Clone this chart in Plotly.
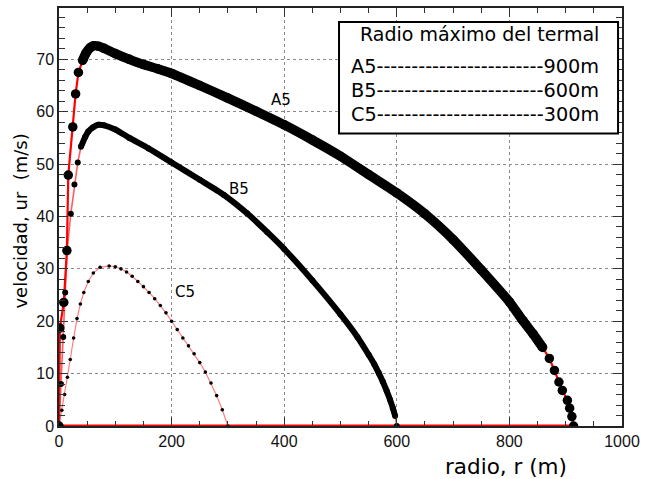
import plotly.graph_objects as go

# ---------------- data ----------------
A5_r = [0, 1.5, 8.5, 14, 16.5, 24.5, 29.5, 34.5, 42, 48, 55, 62, 70, 80, 100, 125, 150, 175, 200,
        250, 300, 350, 400, 450, 500, 550, 600, 650, 700, 750, 800, 824,
        842, 859, 871, 880, 888, 894, 903, 907, 911, 914]
A5_v = [0, 18.7, 23.6, 33.5, 47.9, 57.1, 63.4, 67.5, 69.8, 71.2, 72.2, 72.6, 72.5, 72.1, 71.1, 70.0, 69.0, 68.2, 67.3,
        65.0, 62.6, 60.1, 57.5, 54.6, 51.5, 48.0, 44.5, 40.5, 35.6, 29.8, 23.7, 20.1,
        17.6, 15.0, 12.9, 10.6, 8.4, 6.8, 4.9, 3.4, 1.8, 0]

B5_r = [0, 3.5, 7.5, 11, 14.6, 21, 27.4, 33.3, 39, 46.6, 52, 60, 70, 80, 100, 125, 159, 200,
        250, 293, 334, 370, 400, 450, 500, 530, 550, 560, 568, 575, 582, 588, 593, 597, 600]
B5_v = [0, 8, 17, 25.5, 33.8, 40.5, 46.1, 50.3, 53.3, 55.2, 56.2, 57.0, 57.5, 57.4, 56.6, 55.0, 53.0, 50.3,
        47.0, 44.1, 40.6, 37.0, 33.8, 27.8, 21.3, 17.0, 13.6, 11.8, 10.1, 8.5, 6.7, 5.0, 3.4, 1.9, 0]

C5_r = [0, 5, 10, 15, 20, 26, 32, 38, 44, 52, 61, 73, 89, 100, 110, 120, 130, 140, 150, 160, 170,
        180, 190, 200, 210, 220, 230, 240, 250, 260, 270, 280, 290, 300]
C5_v = [0, 3.0, 6.0, 9.3, 12.7, 16.8, 20.5, 23.3, 25.5, 27.6, 29.2, 30.3, 30.55, 30.4, 30.0, 29.4, 28.6,
        27.6, 26.6, 25.5, 24.3, 23.0, 21.6, 20.0, 18.4, 16.8, 15.3, 13.8, 12.1, 10.3, 8.2, 5.8, 3.1, 0]

curve_labels = ["A5", "B5", "C5"]
radio_max = ["900m", "600m", "300m"]
legend_title = "Radio máximo del termal"

x_title = "radio, r (m)"
y_title = "velocidad, ur  (m/s)"

# ---------------- styles ----------------
styles = {
    "A5": dict(size=9.5, red="rgb(255,0,0)", redw=2.2, band=(40, 862)),
    "B5": dict(size=6, red="rgba(255,40,40,0.75)", redw=1.6, band=(38, 597)),
    "C5": dict(size=3.6, red="rgba(255,70,70,0.7)", redw=1.2, band=None),
}
series = {"A5": (A5_r, A5_v), "B5": (B5_r, B5_v), "C5": (C5_r, C5_v)}

fig = go.Figure()

# red connecting lines underneath
for name in ["C5", "B5", "A5"]:
    r, v = series[name]
    st = styles[name]
    fig.add_trace(go.Scatter(x=r, y=v, mode="lines", line=dict(color=st["red"], width=st["redw"]),
                             hoverinfo="skip", showlegend=False))

# red base line along r axis
fig.add_trace(go.Scatter(x=[0, max(A5_r)], y=[0, 0], mode="lines",
                         line=dict(color="rgb(255,0,0)", width=3), showlegend=False, hoverinfo="skip"))

# black markers / dense band
for name in ["C5", "B5", "A5"]:
    r, v = series[name]
    st = styles[name]
    if st["band"] is not None:
        lo, hi = st["band"]
        br = [a for a in r if lo <= a <= hi]
        bv = [b for a, b in zip(r, v) if lo <= a <= hi]
        fig.add_trace(go.Scatter(x=br, y=bv, mode="lines",
                                 line=dict(color="black", width=st["size"], shape="spline", smoothing=0.6),
                                 showlegend=False, hoverinfo="skip"))
    fig.add_trace(go.Scatter(x=r, y=v, mode="markers",
                             marker=dict(color="black", size=st["size"], line=dict(width=0)),
                             showlegend=False, name=name))

axis_common = dict(
    showline=True, linecolor="#222", linewidth=1.5, mirror="ticks",
    ticks="inside", ticklen=9, tickwidth=1, tickcolor="#333",
    showgrid=True, gridcolor="#8a8a8a", griddash="dot", gridwidth=1,
    zeroline=False, ticklabeloverflow="allow",
    tickfont=dict(family="Liberation Sans", size=16, color="#111"),
)

fig.update_xaxes(range=[0, 1000], dtick=200, tick0=0,
                 minor=dict(dtick=50, ticklen=5, ticks="inside", tickcolor="#333", showgrid=False),
                 **axis_common)
fig.update_yaxes(range=[0, 79.8], dtick=10, tick0=0,
                 minor=dict(dtick=2, ticklen=6, ticks="inside", tickcolor="#333", showgrid=False),
                 **axis_common)

ann = []
# curve labels
for name, (lx, ly) in zip(curve_labels, [(394, 62.2), (319, 45.2), (224, 25.5)]):
    ann.append(dict(x=lx, y=ly, xref="x", yref="y", text=name, showarrow=False,
                    xanchor="center", yanchor="middle",
                    font=dict(family="DejaVu Sans", size=15, color="black")))

# legend box texts
ann.append(dict(x=485, y=32, text=legend_title, showarrow=False, xanchor="center",
                font=dict(family="DejaVu Sans", size=19, color="black")))
for i, (name, rm) in enumerate(zip(curve_labels, radio_max)):
    ann.append(dict(x=353, y=[65, 89, 113][i], text=name + "-" * 24 + rm, showarrow=False,
                    xanchor="left", font=dict(family="DejaVu Sans", size=19.3, color="black")))

# axis titles
ann.append(dict(x=576, y=467, text=x_title, showarrow=False, xanchor="right",
                font=dict(family="DejaVu Sans", size=21.5, color="black")))
ann.append(dict(x=20, y=220, text=y_title, showarrow=False, textangle=-90, xanchor="center",
                font=dict(family="DejaVu Sans", size=18, color="black")))

# convert pixel-positioned annotations to paper coords
W, H = 646, 479
L, R, T, B = 59, 16, 6, 53
pw, ph = W - L - R, H - T - B
for a in ann:
    if a.get("xref") == "x":
        continue
    a["xref"] = "paper"
    a["yref"] = "paper"
    a["yanchor"] = "middle"
    a["x"] = (a["x"] - L) / pw
    a["y"] = (H - B - a["y"]) / ph

fig.update_layout(
    width=W, height=H,
    margin=dict(l=L, r=R, t=T, b=B),
    paper_bgcolor="white", plot_bgcolor="white",
    annotations=ann,
    shapes=[dict(type="rect", xref="paper", yref="paper",
                 x0=(343 - L) / pw, x1=(626 - L) / pw,
                 y0=(H - B - 132) / ph, y1=(H - B - 20) / ph,
                 line=dict(color="black", width=2), fillcolor="white", layer="above")],
)

fig.write_html("out.html")
